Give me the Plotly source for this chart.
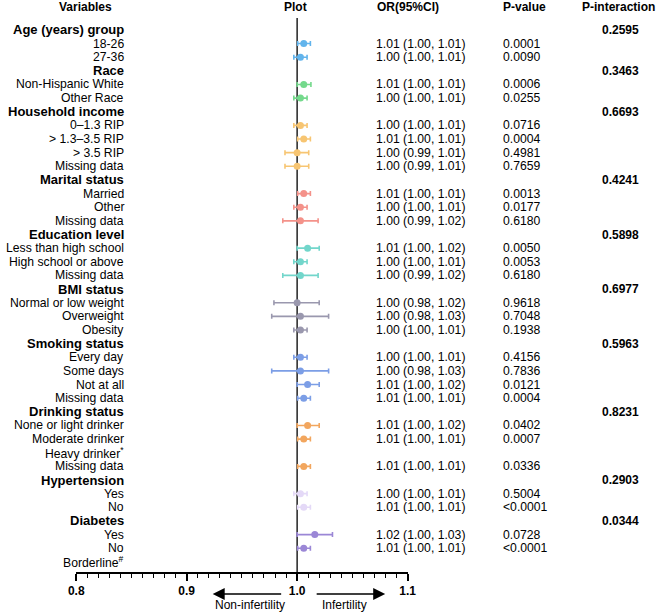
import plotly.graph_objects as go

W, H = 669, 612

labels = ["Age (years) group", "18-26", "27-36",
          "Race", "Non-Hispanic White", "Other Race",
          "Household income", "0–1.3 RIP", "> 1.3–3.5 RIP", "> 3.5 RIP", "Missing data",
          "Marital status", "Married", "Other", "Missing data",
          "Education level", "Less than high school", "High school or above", "Missing data",
          "BMI status", "Normal or low weight", "Overweight", "Obesity",
          "Smoking status", "Every day", "Some days", "Not at all", "Missing data",
          "Drinking status", "None or light drinker", "Moderate drinker", "Heavy drinker<sup>*</sup>", "Missing data",
          "Hypertension", "Yes", "No",
          "Diabetes", "Yes", "No", "Borderline<sup>#</sup>"]

is_header = [1, 0, 0, 1, 0, 0, 1, 0, 0, 0, 0, 1, 0, 0, 0, 1, 0, 0, 0, 1, 0, 0, 0,
             1, 0, 0, 0, 0, 1, 0, 0, 0, 0, 1, 0, 0, 1, 0, 0, 0]

group = [0, 0, 0, 1, 1, 1, 2, 2, 2, 2, 2, 3, 3, 3, 3, 4, 4, 4, 4, 5, 5, 5, 5,
         6, 6, 6, 6, 6, 7, 7, 7, 7, 7, 8, 8, 8, 9, 9, 9, 9]

or_pt = [None, 1.006, 1.003, None, 1.006, 1.003, None, 1.003, 1.006, 1.000, 1.000,
         None, 1.006, 1.003, 1.003, None, 1.0095, 1.003, 1.003, None, 1.000, 1.003, 1.003,
         None, 1.003, 1.003, 1.0095, 1.006, None, 1.0095, 1.006, None, 1.006,
         None, 1.003, 1.006, None, 1.016, 1.006, None]
ci_lo = [None, 1.0005, 0.997, None, 1.000, 0.997, None, 0.997, 1.0005, 0.989, 0.989,
         None, 1.0005, 0.997, 0.987, None, 1.000, 0.997, 0.987, None, 0.979, 0.977, 0.997,
         None, 0.997, 0.977, 1.000, 1.0005, None, 1.000, 1.0005, None, 1.0005,
         None, 0.997, 1.0005, None, 1.000, 1.0005, None]
ci_hi = [None, 1.012, 1.009, None, 1.0125, 1.009, None, 1.009, 1.012, 1.0105, 1.0105,
         None, 1.012, 1.009, 1.019, None, 1.020, 1.009, 1.019, None, 1.020, 1.0285, 1.009,
         None, 1.009, 1.0285, 1.020, 1.012, None, 1.020, 1.012, None, 1.012,
         None, 1.009, 1.012, None, 1.032, 1.012, None]

or_text = ["", "1.01 (1.00, 1.01)", "1.00 (1.00, 1.01)",
           "", "1.01 (1.00, 1.01)", "1.00 (1.00, 1.01)",
           "", "1.00 (1.00, 1.01)", "1.01 (1.00, 1.01)", "1.00 (0.99, 1.01)", "1.00 (0.99, 1.01)",
           "", "1.01 (1.00, 1.01)", "1.00 (1.00, 1.01)", "1.00 (0.99, 1.02)",
           "", "1.01 (1.00, 1.02)", "1.00 (1.00, 1.01)", "1.00 (0.99, 1.02)",
           "", "1.00 (0.98, 1.02)", "1.00 (0.98, 1.03)", "1.00 (1.00, 1.01)",
           "", "1.00 (1.00, 1.01)", "1.00 (0.98, 1.03)", "1.01 (1.00, 1.02)", "1.01 (1.00, 1.01)",
           "", "1.01 (1.00, 1.02)", "1.01 (1.00, 1.01)", "", "1.01 (1.00, 1.01)",
           "", "1.00 (1.00, 1.01)", "1.01 (1.00, 1.01)",
           "", "1.02 (1.00, 1.03)", "1.01 (1.00, 1.01)", ""]

p_text = ["", "0.0001", "0.0090", "", "0.0006", "0.0255",
          "", "0.0716", "0.0004", "0.4981", "0.7659",
          "", "0.0013", "0.0177", "0.6180",
          "", "0.0050", "0.0053", "0.6180",
          "", "0.9618", "0.7048", "0.1938",
          "", "0.4156", "0.7836", "0.0121", "0.0004",
          "", "0.0402", "0.0007", "", "0.0336",
          "", "0.5004", "<0.0001",
          "", "0.0728", "<0.0001", ""]

p_int = ["0.2595", "", "", "0.3463", "", "", "0.6693", "", "", "", "",
         "0.4241", "", "", "", "0.5898", "", "", "", "0.6977", "", "", "",
         "0.5963", "", "", "", "", "0.8231", "", "", "", "",
         "0.2903", "", "", "0.0344", "", "", ""]

group_colors = ["#62B4EC", "#74D98C", "#F7C572", "#F4928A", "#72D6CB",
                "#9A98AE", "#7C9EE6", "#F2A65E", "#E4D9F7", "#9B87D6"]

x_ticks = [0.8, 0.9, 1.0, 1.1]
x_ticklabels = ["0.8", "0.9", "1.0", "1.1"]

FONT = "Liberation Sans, Arial, sans-serif"

fig = go.Figure()

n = len(labels)
rows = list(range(n))

for g, col in enumerate(group_colors):
    xs, ys, ep, em = [], [], [], []
    for i in rows:
        if group[i] == g and or_pt[i] is not None:
            xs.append(or_pt[i])
            ys.append(i)
            ep.append(ci_hi[i] - or_pt[i])
            em.append(or_pt[i] - ci_lo[i])
    fig.add_trace(go.Scatter(
        x=xs, y=ys, mode="markers",
        marker=dict(color=col, size=7),
        error_x=dict(type="data", symmetric=False, array=ep, arrayminus=em,
                     color=col, thickness=1.6, width=2.5),
        showlegend=False, cliponaxis=False, hoverinfo="skip"))

def px(x):
    return x / W

def py(y):
    return 1 - y / H

ann = []
# column headers
for txt, xc in [("Variables", 80), ("Plot", 295), ("P-interaction", 626)]:
    ann.append(dict(x=px(xc), y=py(7), xref="paper", yref="paper", text="<b>%s</b>" % txt,
                    showarrow=False, xanchor="center", yanchor="middle",
                    font=dict(size=12, family=FONT, color="black")))
for txt, xl in [("OR(95%CI)", 377), ("P-value", 506)]:
    ann.append(dict(x=px(xl), y=py(7), xref="paper", yref="paper", text="<b>%s</b>" % txt,
                    showarrow=False, xanchor="left", yanchor="middle",
                    font=dict(size=12, family=FONT, color="black")))

for i in rows:
    if is_header[i]:
        t = "<b>%s</b>" % labels[i]
        fs = 13
    else:
        t = labels[i]
        fs = 12.2
    ann.append(dict(x=px(120), y=i, xref="paper", yref="y", text=t, showarrow=False,
                    xanchor="right", yanchor="middle", borderpad=0,
                    font=dict(size=fs, family=FONT, color="black")))
    if or_text[i]:
        ann.append(dict(x=px(377), y=i, xref="paper", yref="y", text=or_text[i], showarrow=False,
                        xanchor="left", yanchor="middle", borderpad=0,
                        font=dict(size=12.2, family=FONT, color="black")))
    if p_text[i]:
        ann.append(dict(x=px(507), y=i, xref="paper", yref="y", text=p_text[i], showarrow=False,
                        xanchor="left", yanchor="middle", borderpad=0,
                        font=dict(size=12.2, family=FONT, color="black")))
    if p_int[i]:
        ann.append(dict(x=px(628), y=i, xref="paper", yref="y", text="<b>%s</b>" % p_int[i],
                        showarrow=False, xanchor="center", yanchor="middle", borderpad=0,
                        font=dict(size=12, family=FONT, color="black")))

# direction arrows
ann.append(dict(x=px(210), y=py(594), xref="paper", yref="paper", ax=70, ay=0,
                axref="pixel", ayref="pixel", text="", showarrow=True,
                arrowhead=2, arrowsize=1.6, arrowwidth=1.5, arrowcolor="black", standoff=0))
ann.append(dict(x=px(387), y=py(594), xref="paper", yref="paper", ax=-70, ay=0,
                axref="pixel", ayref="pixel", text="", showarrow=True,
                arrowhead=2, arrowsize=1.6, arrowwidth=1.5, arrowcolor="black", standoff=0))
ann.append(dict(x=px(248), y=py(605), xref="paper", yref="paper", text="Non-infertility",
                showarrow=False, xanchor="center", yanchor="middle",
                font=dict(size=12, family=FONT, color="black")))
ann.append(dict(x=px(345), y=py(605), xref="paper", yref="paper", text="Infertility",
                showarrow=False, xanchor="center", yanchor="middle",
                font=dict(size=12, family=FONT, color="black")))

y_bot, y_top = 572, 18
row0, rowstep = 29.9, 13.64
fig.add_shape(type="line", xref="x", yref="paper", x0=1.0, x1=1.0,
              y0=py(y_bot), y1=py(y_top), line=dict(color="#222222", width=1.5), layer="below")

fig.update_layout(
    width=W, height=H, margin=dict(l=0, r=0, t=0, b=0),
    plot_bgcolor="white", paper_bgcolor="white",
    annotations=ann,
    xaxis=dict(domain=[px(70), px(410)], range=[0.8, 1.1], showgrid=False, zeroline=False,
               showline=True, linecolor="black", linewidth=1.5,
               ticks="outside", ticklen=7, tickwidth=1.5, tickcolor="black",
               tickvals=x_ticks, ticktext=["<b>%s</b>" % t for t in x_ticklabels],
               tickfont=dict(size=12, family=FONT, color="black"),
               minor=dict(dtick=0.01, tick0=0.8, ticks="outside", ticklen=4,
                          tickwidth=1, tickcolor="black", showgrid=False),
               anchor="y", fixedrange=True),
    yaxis=dict(domain=[py(y_bot), py(y_top)],
               range=[(n - 1) + (y_bot - (row0 + (n - 1) * rowstep)) / rowstep,
                      -(row0 - y_top) / rowstep],
               showgrid=False, zeroline=False, showticklabels=False, showline=False,
               ticks="", fixedrange=True),
)

fig.write_html("out.html", config={"displayModeBar": False},
               post_script="document.body.style.margin='0';document.body.style.padding='0';"
                           "document.documentElement.style.overflow='hidden';")
